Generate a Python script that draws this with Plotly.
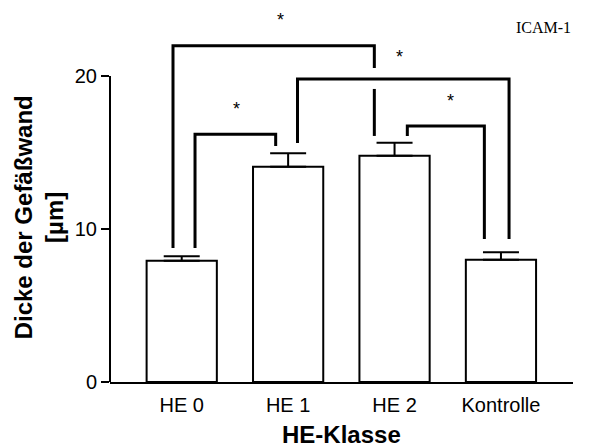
import plotly.graph_objects as go

categories = ["HE 0", "HE 1", "HE 2", "Kontrolle"]
means = [7.93, 14.07, 14.79, 7.99]
sem = [0.29, 0.88, 0.85, 0.49]
y_tick_vals = [0, 10, 20]
y_max = 24.31
y_axis_top = 20

# significance brackets:
# (left group, right group, left offset, right offset, bracket height, left leg bottom, right leg bottom)
brackets = [
    (0, 1, 0.125, -0.117, 16.19, 8.76, 15.42),
    (0, 2, -0.082, -0.190, 21.98, 8.76, 16.08),
    (1, 3, 0.088, 0.076, 19.80, 15.62, 9.35),
    (2, 3, 0.120, -0.156, 16.73, 16.08, 9.35),
]
# gap in the right leg of bracket 1 where bracket 2 crosses (upper end, lower end)
right_leg_gaps = {1: (20.52, 19.15)}
star_x = [0.517, 0.924, 2.045, 2.528]
star_y = [17.83, 23.68, 21.23, 18.38]

FONT = "Arial, Liberation Sans, Helvetica, sans-serif"

fig = go.Figure()
fig.add_trace(go.Bar(
    x=list(range(len(categories))), y=means, width=0.66,
    marker=dict(color="white", line=dict(color="black", width=2)),
    error_y=dict(type="data", array=sem, arrayminus=[0] * len(sem), symmetric=False,
                 color="black", thickness=2, width=18),
    showlegend=False,
))

xs, ys = [], []
for i, (g1, g2, o1, o2, h, b1, b2) in enumerate(brackets):
    xl, xr = g1 + o1, g2 + o2
    xs += [xl, xl, xr]
    ys += [b1, h, h]
    if i in right_leg_gaps:
        gt, gb = right_leg_gaps[i]
        xs += [xr, None, xr, xr, None]
        ys += [gt, None, gb, b2, None]
    else:
        xs += [xr, None]
        ys += [b2, None]
fig.add_trace(go.Scatter(x=xs, y=ys, mode="lines", line=dict(color="black", width=3),
                         showlegend=False, hoverinfo="skip"))

for sx, sy in zip(star_x, star_y):
    fig.add_annotation(x=sx, y=sy, text="*", showarrow=False,
                       font=dict(family=FONT, size=18, color="black"))

fig.add_shape(type="line", xref="paper", yref="paper", x0=0, x1=0, y0=0,
              y1=y_axis_top / y_max, line=dict(color="black", width=2))

fig.add_annotation(xref="paper", yref="paper", x=-0.153, y=0.443, xanchor="center", yanchor="middle",
                   text="<b>Dicke der Gefäßwand<br>[µm]</b>", textangle=-90, showarrow=False,
                   font=dict(family=FONT, size=24, color="black"))
fig.add_annotation(xref="paper", yref="paper", x=0.5, y=-0.142, xanchor="center", yanchor="middle",
                   text="<b>HE-Klasse</b>", showarrow=False,
                   font=dict(family=FONT, size=24, color="black"))
fig.add_annotation(xref="paper", yref="paper", x=1.0, y=0.954, xanchor="right", yanchor="middle",
                   text="ICAM-1", showarrow=False,
                   font=dict(family="Times New Roman, Liberation Serif, serif", size=16, color="black"))

fig.update_layout(
    width=583, height=440,
    margin=dict(l=102, r=18, t=2, b=66),
    plot_bgcolor="white", paper_bgcolor="white",
    xaxis=dict(range=[-0.674, 3.677], tickvals=list(range(len(categories))), ticktext=categories,
               showline=True, linecolor="black", linewidth=2, ticks="", showgrid=False,
               zeroline=False, ticklabelstandoff=4,
               tickfont=dict(family=FONT, size=20, color="black")),
    yaxis=dict(range=[0, y_max], tickvals=y_tick_vals, showline=False, ticks="outside",
               ticklen=8, tickwidth=2, tickcolor="black", showgrid=False, zeroline=False,
               tickfont=dict(family=FONT, size=20, color="black")),
)

fig.write_html("out.html")
